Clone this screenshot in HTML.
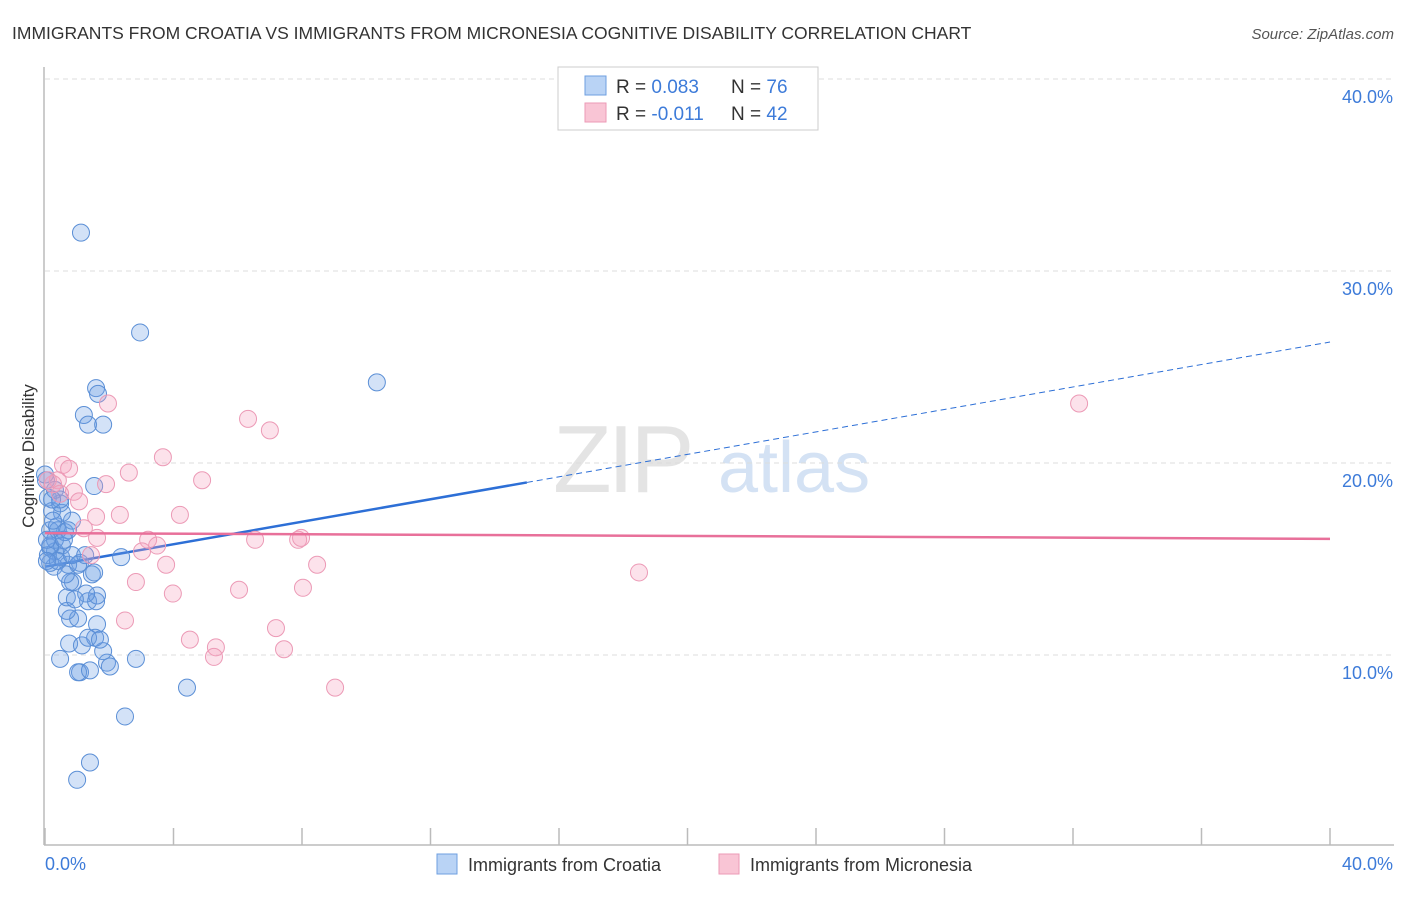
<!DOCTYPE html>
<html><head><meta charset="utf-8"><style>
body{margin:0;background:#fff;font-family:"Liberation Sans",sans-serif;}
svg text{font-family:"Liberation Sans",sans-serif;}
</style></head><body>
<svg id="chart" width="1406" height="892" viewBox="0 0 1406 892" xmlns="http://www.w3.org/2000/svg">
<text x="12" y="39" font-size="17.5" fill="#333">IMMIGRANTS FROM CROATIA VS IMMIGRANTS FROM MICRONESIA COGNITIVE DISABILITY CORRELATION CHART</text>
<text x="1394" y="39" font-size="15" fill="#555" text-anchor="end" font-style="italic">Source: ZipAtlas.com</text>
<g>
<text x="553" y="492" font-size="96" fill="#e4e4e4" font-family="Liberation Serif, serif" letter-spacing="-4">ZIP</text>
<text x="718" y="492" font-size="72" fill="#d4e2f4">atlas</text>
</g>
<g id="grid"></g>
<line x1="44" y1="67" x2="44" y2="845" stroke="#bbb" stroke-width="1.5"/>
<line x1="44" y1="845" x2="1394" y2="845" stroke="#bbb" stroke-width="1.5"/>
<text transform="translate(34,456) rotate(-90)" font-size="17" fill="#333" text-anchor="middle">Cognitive Disability</text>
<text x="45" y="870" font-size="18" fill="#3d7bd9">0.0%</text>
<text x="1393" y="870" font-size="18" fill="#3d7bd9" text-anchor="end">40.0%</text>
<g id="ticks"></g>
<g id="trend"></g>
<g id="points"></g>
<g>
<rect x="558" y="67" width="260" height="63" fill="#fff" stroke="#ccc"/>
<rect x="585" y="76" width="21" height="19" fill="#b9d3f5" stroke="#6e9fe0"/>
<rect x="585" y="103" width="21" height="19" fill="#f9c5d5" stroke="#ec9ab6"/>
<text x="616" y="93" font-size="19" fill="#333">R = <tspan fill="#3d7bd9">0.083</tspan></text>
<text x="731" y="93" font-size="19" fill="#333">N = <tspan fill="#3d7bd9">76</tspan></text>
<text x="616" y="120" font-size="19" fill="#333">R = <tspan fill="#3d7bd9">-0.011</tspan></text>
<text x="731" y="120" font-size="19" fill="#333">N = <tspan fill="#3d7bd9">42</tspan></text>
</g>
<g>
<rect x="437" y="854" width="20" height="20" fill="#b9d3f5" stroke="#6e9fe0"/>
<text x="468" y="871" font-size="18" fill="#333">Immigrants from Croatia</text>
<rect x="719" y="854" width="20" height="20" fill="#f9c5d5" stroke="#ec9ab6"/>
<text x="750" y="871" font-size="18" fill="#333">Immigrants from Micronesia</text>
</g>
</svg>
<script>
const yTicks=[10,20,30,40];
const yTickLabels=["10.0%","20.0%","30.0%","40.0%"];
const xTicks=[0,4,8,12,16,20,24,28,32,36,40];
const croatiaX=[1.12,2.96,10.33,1.59,1.65,1.21,1.34,1.81,1.53,2.37,4.42,2.49,1.40,1.00,2.83,1.93,2.02,1.09,1.03,1.40,0.47,1.81,0.75,1.62,1.15,1.56,1.34,0.78,1.03,0.68,1.34,1.59,1.62,0.68,1.28,0.87,0.78,1.46,1.53,1.09,0.72,1.03,0.28,0.16,0.50,0.31,0.09,0.16,0.53,0.31,0.62,0.16,0.37,0.84,0.53,0.22,0.47,0.09,0.03,0.31,0.47,0.0,0.16,0.40,0.84,1.25,0.65,0.93,1.71,0.40,0.72,0.06,0.25,0.59,0.06,0.22];
const croatiaY=[32.0,26.8,24.2,23.9,23.6,22.5,22.0,22.0,18.8,15.1,8.3,6.8,4.4,3.5,9.8,9.6,9.4,9.1,9.1,9.2,9.8,10.2,10.6,11.6,10.5,10.9,10.9,11.9,11.9,12.3,12.8,12.8,13.1,13.0,13.2,13.8,13.8,14.2,14.3,14.8,14.7,14.7,14.6,14.8,15.1,15.4,15.2,15.6,15.7,16.0,16.4,16.5,16.7,17.0,17.4,17.5,17.9,18.2,19.1,18.6,18.1,19.4,15.7,14.9,15.2,15.2,14.2,12.9,10.8,16.5,16.5,16.0,17.0,16.0,14.9,18.1];
const micronesiaX=[1.96,6.32,7.00,3.67,0.56,0.75,2.61,4.89,0.40,0.25,1.90,0.90,0.47,1.06,2.33,4.20,1.59,1.21,1.62,6.54,7.88,7.97,3.21,3.49,3.02,1.43,3.77,8.47,2.83,8.03,3.98,6.04,2.49,7.19,4.51,5.32,5.26,7.44,9.03,18.49,32.19,0.09];
const micronesiaY=[23.1,22.3,21.7,20.3,19.9,19.7,19.5,19.1,19.1,18.9,18.9,18.5,18.4,18.0,17.3,17.3,17.2,16.6,16.1,16.0,16.0,16.1,16.0,15.7,15.4,15.2,14.7,14.7,13.8,13.5,13.2,13.4,11.8,11.4,10.8,10.4,9.9,10.3,8.3,14.3,23.1,19.1];
const croatiaTrend=[14.6,0.2925]; // intercept, slope
const micronesiaTrend=[16.35,-0.0075];
const croatiaSolidEnd=15.0;

const NS="http://www.w3.org/2000/svg";
const xs=v=>45+v*32.125;
const ys=v=>847-v*19.2;
function mk(tag,attrs,parent){const e=document.createElementNS(NS,tag);for(const k in attrs)e.setAttribute(k,attrs[k]);parent.appendChild(e);return e;}
const grid=document.getElementById('grid');
yTicks.forEach((t,i)=>{
  const l=mk('line',{x1:45,x2:1394,y1:ys(t),y2:ys(t),stroke:'#ddd','stroke-dasharray':'5,4'},grid);
  
  
  const tx=mk('text',{x:1393,y:ys(t)+24,'font-size':18,fill:'#3d7bd9','text-anchor':'end'},grid);
  tx.textContent=yTickLabels[i];
  
  
});
const ticks=document.getElementById('ticks');
xTicks.forEach(t=>{
  const l=mk('line',{x1:xs(t),x2:xs(t),y1:828,y2:845,stroke:'#bbb','stroke-width':1.5},ticks);
  
  
});
const trend=document.getElementById('trend');
const cf=x=>croatiaTrend[0]+croatiaTrend[1]*x;
const mf=x=>micronesiaTrend[0]+micronesiaTrend[1]*x;
let l1=mk('line',{x1:xs(0),y1:ys(cf(0)),x2:xs(croatiaSolidEnd),y2:ys(cf(croatiaSolidEnd)),stroke:'#2d6fd6','stroke-width':2.5},trend);


let l2=mk('line',{x1:xs(croatiaSolidEnd),y1:ys(cf(croatiaSolidEnd)),x2:xs(40),y2:ys(cf(40)),stroke:'#2d6fd6','stroke-width':1,'stroke-dasharray':'6,4'},trend);


const pts=document.getElementById('points');
croatiaX.forEach((x,i)=>{
  const c=mk('circle',{cx:xs(x),cy:ys(croatiaY[i]),r:8.5,fill:'rgba(110,160,230,0.3)',stroke:'#5b8fd6','stroke-width':1},pts);
  
  
});
micronesiaX.forEach((x,i)=>{
  const c=mk('circle',{cx:xs(x),cy:ys(micronesiaY[i]),r:8.5,fill:'rgba(245,160,190,0.3)',stroke:'#ec9ab6','stroke-width':1},pts);
  
  
});
let l3=mk('line',{x1:xs(0),y1:ys(mf(0)),x2:xs(40),y2:ys(mf(40)),stroke:'#e8709a','stroke-width':2.5},pts);


</script>
</body></html>
